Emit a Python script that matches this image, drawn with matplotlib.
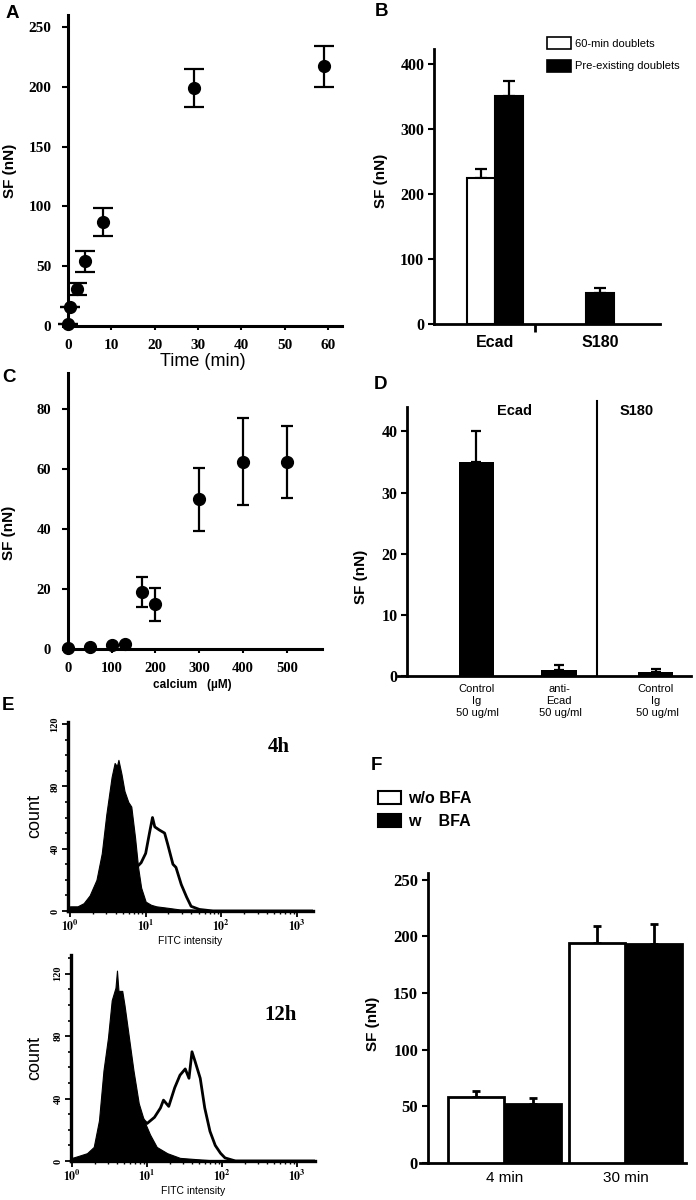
import numpy as np
import matplotlib
matplotlib.use('Agg')
import matplotlib.pyplot as plt
from matplotlib.patches import Patch
from matplotlib.ticker import MultipleLocator, FixedLocator

W, H = 696, 1200
plt.rcParams['font.family'] = ['Liberation Sans', 'DejaVu Sans']
plt.rcParams['mathtext.fontset'] = 'stix'

# ---- data ----
# A: strength vs time
time_min = [0, 0.5, 2, 4, 8, 29, 59]
sf_time = [2, 16, 31, 54, 87, 199, 217]
sf_time_err = [0, 0, 5, 9, 12, 16, 17]

# B: 60-min vs pre-existing doublets
b_groups = ['Ecad', 'S180']
b_60min = [224]          # only Ecad
b_60min_err = [14]
b_pre = [350, 48]
b_pre_err = [24, 8]

# C: calcium dependence
calcium = [0, 50, 100, 130, 170, 200, 300, 400, 500]
sf_ca = [0.5, 0.8, 1.2, 1.6, 19, 15, 50, 62.5, 62.5]
sf_ca_err = [0, 0, 0, 0, 5, 5.5, 10.5, 14.5, 12]

# D: antibody blocking
d_labels = ['Control\nIg\n 50 ug/ml', 'anti-\nEcad\n 50 ug/ml', 'Control\nIg\n 50 ug/ml']
d_vals = [35, 1.0, 0.7]
d_err = [5, 0.8, 0.5]

# E: FACS histograms (log10 FITC intensity, count)
fill4_x = [0.0, 0.1, 0.18, 0.26, 0.35, 0.42, 0.48, 0.55, 0.59, 0.62, 0.64, 0.68, 0.72, 0.77,
           0.81, 0.86, 0.90, 0.94, 1.0, 1.07, 1.14, 1.3, 1.45, 1.6, 1.8, 2.0, 3.2]
fill4_y = [3, 3, 5, 10, 20, 37, 62, 86, 95, 93, 97, 88, 77, 70,
           67, 47, 28, 15, 6, 4, 3, 2, 1, 1, 0.5, 0, 0]
out4_x = [0.9, 0.94, 1.0, 1.05, 1.09, 1.12, 1.18, 1.25, 1.29, 1.36, 1.4, 1.47, 1.54, 1.6, 1.71, 1.89, 3.2]
out4_y = [29, 31, 37, 50, 60, 54, 52, 50, 43, 30, 28, 17, 9, 3, 1, 0, 0]

fill12_x = [0.0, 0.07, 0.2, 0.29, 0.36, 0.42, 0.48, 0.53, 0.58, 0.6, 0.62, 0.67, 0.7, 0.76,
            0.82, 0.89, 0.96, 1.04, 1.13, 1.27, 1.44, 1.71, 2.0, 3.25]
fill12_y = [2, 3, 5, 9, 26, 58, 79, 103, 111, 122, 109, 109, 100, 79,
            58, 37, 26, 17, 9, 5, 2, 1, 0, 0]
out12_x = [0.96, 1.0, 1.1, 1.18, 1.22, 1.29, 1.37, 1.44, 1.51, 1.56, 1.6, 1.64, 1.71, 1.77,
           1.84, 1.91, 1.98, 2.04, 2.18, 3.25]
out12_y = [26, 24, 28, 34, 39, 35, 47, 55, 59, 53, 70, 64, 53, 34,
           19, 10, 5, 2, 0, 0]

# F: brefeldin A
f_times = ['4 min', '30 min']
f_wo = [58, 194]
f_wo_err = [6, 15]
f_w = [52, 193]
f_w_err = [5, 18]

SERIF = 'Liberation Serif'

fig = plt.figure(figsize=(W / 100, H / 100), dpi=100)


def px_axes(x0, y0, x1, y1):
    return fig.add_axes([x0 / W, 1 - y1 / H, (x1 - x0) / W, (y1 - y0) / H])


def px_text(x, y, s, **kw):
    fig.text(x / W, 1 - y / H, s, **kw)


def style(ax, lw=2.0, size=10):
    for s in ['top', 'right']:
        ax.spines[s].set_visible(False)
    for s in ['left', 'bottom']:
        ax.spines[s].set_linewidth(lw)
    for lab in ax.get_yticklabels() + ax.get_xticklabels():
        lab.set_fontfamily(SERIF)
        lab.set_fontweight('bold')
        lab.set_fontsize(size)


# ---- A ----
ax = px_axes(62.8, 15, 342.3, 326)
ax.errorbar(time_min, sf_time, yerr=sf_time_err, fmt='o', color='black', ms=8.5,
            capsize=7, elinewidth=1.6, capthick=1.6, clip_on=False, zorder=5)
ax.set_xlim(-1.2, 63.3)
ax.set_ylim(0, 260)
ax.spines['left'].set_position(('data', 0))
ax.set_xticks(range(0, 61, 10))
ax.set_yticks(range(0, 251, 50))
ax.tick_params(axis='y', length=4, width=1.5, pad=8)
ax.tick_params(axis='x', length=3, width=1.5, pad=6)
style(ax, lw=2.2, size=11)
ax.set_xlabel('Time (min)', fontsize=13, labelpad=1)
ax.set_ylabel('SF (nN)', fontsize=11, fontweight='bold')
ax.yaxis.set_label_coords(-0.164, 0.5)

# ---- B ----
ax = px_axes(434, 49, 660, 324)
bw = 0.267
ax.bar([-bw / 2], b_60min, bw, color='white', edgecolor='black', lw=1.5, zorder=3)
ax.errorbar([-bw / 2], b_60min, yerr=[[0], b_60min_err], fmt='none', ecolor='black',
            capsize=4.5, elinewidth=1.6, capthick=1.6, zorder=2)
pre_pos = [bw / 2, 1]
ax.bar(pre_pos, b_pre, bw, color='black', edgecolor='black', lw=1.5, zorder=3)
ax.errorbar(pre_pos, b_pre, yerr=[[0, 0], b_pre_err], fmt='none', ecolor='black',
            capsize=4.5, elinewidth=1.6, capthick=1.6, zorder=2)
ax.set_xlim(-0.58, 1.57)
ax.set_ylim(0, 423)
ax.set_yticks(range(0, 401, 100))
ax.set_xticks([0, 1])
ax.set_xticklabels(b_groups)
ax.xaxis.set_minor_locator(FixedLocator([0.38]))
ax.tick_params(axis='x', which='major', length=0, pad=8)
ax.tick_params(axis='x', which='minor', length=6, width=2)
ax.tick_params(axis='y', length=4, width=1.5, pad=3)
style(ax, lw=2.0, size=11.5)
for lab in ax.get_xticklabels():
    lab.set_fontfamily('Liberation Sans')
    lab.set_fontsize(11.5)
ax.set_ylabel('SF (nN)', fontsize=11, fontweight='bold')
ax.yaxis.set_label_coords(-0.204, 0.52)
ax.legend(handles=[Patch(facecolor='white', edgecolor='black', lw=1.2, label='60-min doublets'),
                   Patch(facecolor='black', edgecolor='black', lw=1.2, label='Pre-existing doublets')],
          loc='upper left', bbox_to_anchor=(547 / W, 1 - 37 / H), bbox_transform=fig.transFigure,
          frameon=False, fontsize=8, borderpad=0, borderaxespad=0, handlelength=2.2,
          handleheight=1.25, labelspacing=1.0, handletextpad=0.35)

# ---- C ----
ax = px_axes(63, 373, 322, 649)
ax.errorbar(calcium, sf_ca, yerr=sf_ca_err, fmt='o', color='black', ms=8.5,
            capsize=4, elinewidth=1.6, capthick=1.6, clip_on=False, zorder=5)
ax.set_xlim(-11, 580)
ax.set_ylim(0, 92)
ax.spines['left'].set_position(('data', 0))
ax.set_xticks(range(0, 501, 100))
ax.set_yticks(range(0, 81, 20))
ax.tick_params(axis='y', length=4, width=1.5, pad=8)
ax.tick_params(axis='x', length=3, width=1.5, pad=6)
style(ax, lw=2.2, size=10.5)
ax.set_xlabel('calcium   (\u00b5M)', fontsize=8.5, fontweight='bold', labelpad=3)
ax.set_ylabel('SF (nN)', fontsize=11, fontweight='bold')
ax.yaxis.set_label_coords(-0.181, 0.42)

# ---- D ----
ax = px_axes(398, 407, 691, 676)
d_pos = [0, 1, 2.17]
ax.bar(d_pos, d_vals, 0.43, color='black', zorder=3)
ax.errorbar(d_pos, d_vals, yerr=[[0] * 3, d_err], fmt='none', ecolor='black',
            capsize=3.5, elinewidth=1.6, capthick=1.6, zorder=2)
ax.plot([1.46, 1.46], [0, 45], color='black', lw=1.5, clip_on=False)
ax.set_xlim(-0.95, 2.6)
ax.set_ylim(0, 44)
ax.spines['left'].set_position(('data', -0.84))
ax.set_yticks(range(0, 41, 10))
ax.set_xticks(d_pos)
ax.set_xticklabels(d_labels, linespacing=1.25)
ax.tick_params(axis='x', length=0, pad=6)
ax.tick_params(axis='y', length=4, width=1.5, pad=3)
style(ax, lw=2.0, size=11.5)
for lab in ax.get_xticklabels():
    lab.set_fontfamily('Liberation Sans')
    lab.set_fontweight('normal')
    lab.set_fontsize(8)
ax.text(0.46, 43.3, 'Ecad', fontsize=10.5, fontweight='bold', ha='center', va='center')
ax.text(1.94, 43.3, 'S180', fontsize=10.5, fontweight='bold', ha='center', va='center')
ax.set_ylabel('SF (nN)', fontsize=11, fontweight='bold')
ax.yaxis.set_label_coords(-0.102, 0.37)


# ---- E ----
def histo(box, lo, hi, ymax, fx, fy, ox, oy, tag, tagy, labx):
    ax = px_axes(*box)
    ax.plot(10 ** np.array(ox), oy, color='black', lw=2.0)
    ax.fill_between(10 ** np.array(fx), fy, color='black', lw=0.8, edgecolor='black')
    ax.set_xscale('log')
    ax.set_xlim(10 ** lo, 10 ** hi)
    ax.set_ylim(0, ymax)
    ax.set_xticks([1, 10, 100, 1000])
    ax.set_xticklabels([r'$\mathbf{10^{%d}}$' % k for k in range(4)])
    ax.set_yticks([0, 40, 80, 120])
    ax.yaxis.set_minor_locator(MultipleLocator(10))
    ax.tick_params(axis='y', which='major', length=4, width=1.3, pad=2, labelrotation=90)
    ax.tick_params(axis='y', which='minor', length=2.5, width=1.2)
    ax.tick_params(axis='x', which='major', length=4, width=1.3, pad=2)
    ax.tick_params(axis='x', which='minor', length=2.5, width=1.0)
    style(ax, lw=2.4, size=8.5)
    for lab in ax.get_yticklabels():
        lab.set_fontsize(7.5)
        lab.set_va('center')
    ax.set_xlabel('FITC intensity', fontsize=7.5, labelpad=1)
    ax.set_ylabel('count', fontsize=13)
    ax.yaxis.set_label_coords(labx, 0.5)
    ax.text(0.86, tagy, tag, transform=ax.transAxes, fontfamily=SERIF,
            fontweight='bold', fontsize=15, ha='center', va='center')
    return ax


histo((68, 722, 313, 911), -0.026, 3.21, 121.3, fill4_x, fill4_y, out4_x, out4_y, '4h', 0.87, -0.10)
histo((71, 955, 315, 1161), -0.013, 3.24, 132, fill12_x, fill12_y, out12_x, out12_y, '12h', 0.71, -0.115)

# ---- F ----
ax = px_axes(420, 873, 686, 1163)
fw = 0.46
x = np.arange(len(f_times))
ax.bar(x - 0.235, f_wo, fw, color='white', edgecolor='black', lw=2, zorder=3)
ax.bar(x + 0.235, f_w, fw, color='black', edgecolor='black', lw=2, zorder=3)
ax.errorbar(x - 0.235, f_wo, yerr=[[0, 0], f_wo_err], fmt='none', ecolor='black',
            capsize=3, elinewidth=2, capthick=2, zorder=2)
ax.errorbar(x + 0.235, f_w, yerr=[[0, 0], f_w_err], fmt='none', ecolor='black',
            capsize=3, elinewidth=2, capthick=2, zorder=2)
ax.set_xlim(-0.70, 1.50)
ax.set_ylim(0, 256)
ax.spines['left'].set_position(('data', -0.636))
ax.set_yticks(range(0, 251, 50))
ax.set_xticks(x)
ax.set_xticklabels(f_times)
ax.tick_params(axis='x', length=0, pad=6)
ax.tick_params(axis='y', length=4, width=1.5, pad=3)
style(ax, lw=2.0, size=12)
for lab in ax.get_xticklabels():
    lab.set_fontfamily('Liberation Sans')
    lab.set_fontweight('normal')
    lab.set_fontsize(11)
ax.set_ylabel('SF (nN)', fontsize=11, fontweight='bold')
ax.yaxis.set_label_coords(-0.150, 0.48)
ax.legend(handles=[Patch(facecolor='white', edgecolor='black', lw=1.5, label='w/o BFA'),
                   Patch(facecolor='black', edgecolor='black', lw=1.5, label='w    BFA')],
          loc='upper left', bbox_to_anchor=(378 / W, 1 - 791 / H), bbox_transform=fig.transFigure,
          frameon=False, prop={'size': 11.5, 'weight': 'bold'}, borderpad=0, borderaxespad=0,
          handlelength=1.45, handleheight=0.9, labelspacing=0.5, handletextpad=0.45)

# ---- panel letters ----
for letter, (px, py) in {'A': (12, 13), 'B': (381, 12), 'C': (9, 377), 'D': (380, 384),
                         'E': (8, 705), 'F': (376, 765)}.items():
    px_text(px, py, letter, fontsize=13.5, fontweight='bold', ha='center', va='center')

fig.savefig('out.png', dpi=100)
